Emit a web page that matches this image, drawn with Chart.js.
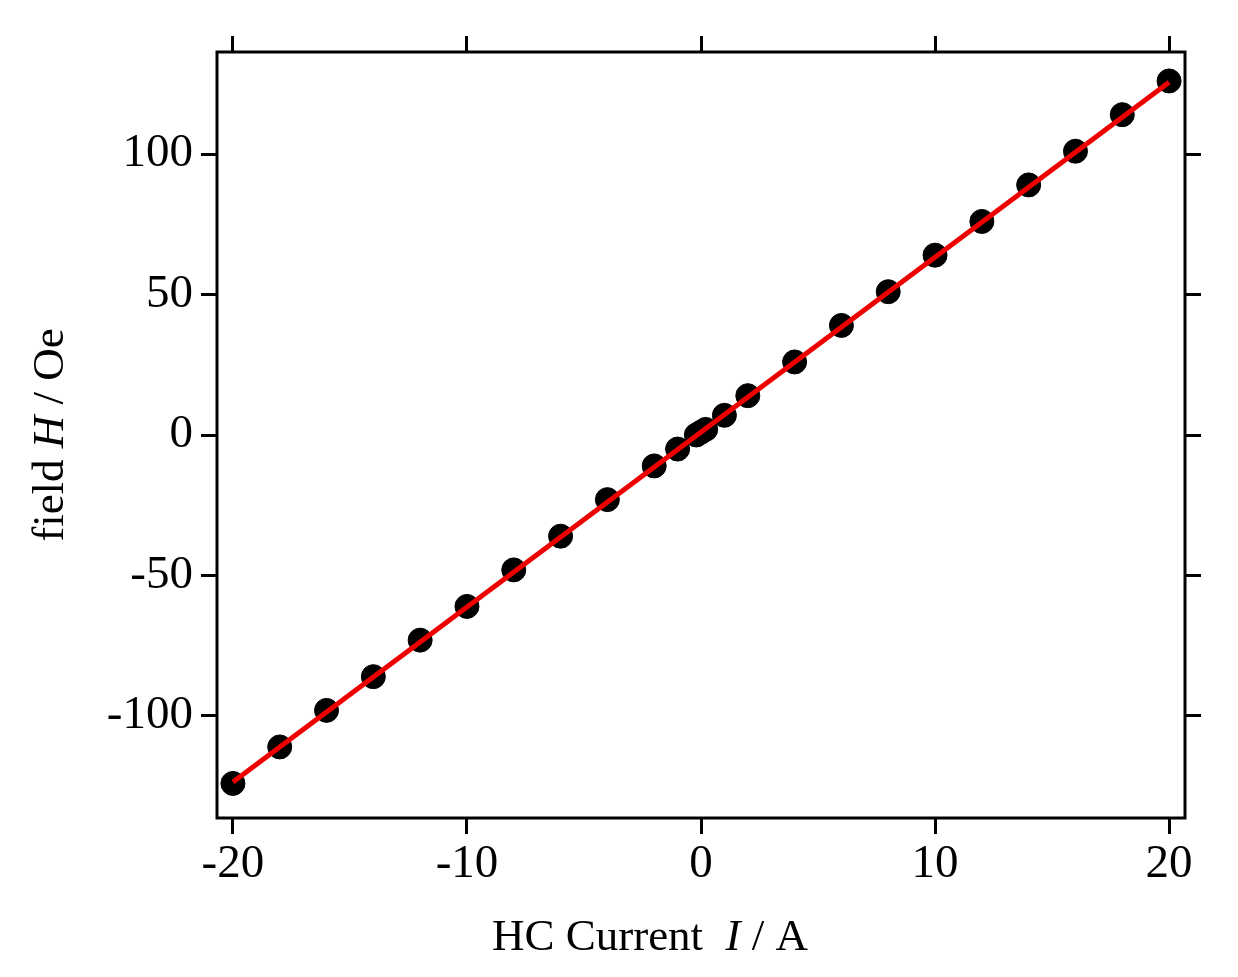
<!DOCTYPE html><html><head><meta charset="utf-8"><script src="https://cdn.jsdelivr.net/npm/chart.js@4"></script>
<style>body{margin:0;background:#fff}canvas{display:block}</style></head><body>
<canvas id="c" width="1238" height="977"></canvas>
<script>
const currents=[-20,-18,-16,-14,-12,-10,-8,-6,-4,-2,-1,-0.2,0,0.2,1,2,4,6,8,10,12,14,16,18,20];
const fields=[-124,-111,-98,-86,-73,-61,-48,-36,-23,-11,-5,0,1,2,7,14,26,39,51,64,76,89,101,114,126];
const fitX=[-20,20];
const fitY=[-123.5,125.5];
const xTicks=[-20,-10,0,10,20];
const yTicks=[-100,-50,0,50,100];
const F='"Liberation Serif", serif';
const tk=v=>a=>{a.ticks=v.map(x=>({value:x}));};
const grid={drawOnChartArea:false,color:'#000',lineWidth:3,tickLength:16,tickColor:'#000'};
const frame={id:'frame',afterDraw(c){const a=c.chartArea,x=c.ctx;x.save();x.strokeStyle='#000';x.lineWidth=3;x.strokeRect(a.left,a.top,a.right-a.left,a.bottom-a.top);
x.fillStyle='#000';x.textBaseline='alphabetic';
const parts=[['HC Current  ','normal'],['I','italic'],[' / A','normal']];
let w=0;parts.forEach(p=>{x.font=p[1]+' 45px '+F;w+=x.measureText(p[0]).width;});
let cx=650-w/2;parts.forEach(p=>{x.font=p[1]+' 45px '+F;x.fillText(p[0],cx,950);cx+=x.measureText(p[0]).width;});
x.translate(63,435);x.rotate(-Math.PI/2);
const q=[['field ','normal'],['H','italic'],[' / Oe','normal']];
w=0;q.forEach(p=>{x.font=p[1]+' 45px '+F;w+=x.measureText(p[0]).width;});
cx=-w/2;q.forEach(p=>{x.font=p[1]+' 45px '+F;x.fillText(p[0],cx,0);cx+=x.measureText(p[0]).width;});
x.restore();}};
new Chart(document.getElementById('c'),{type:'scatter',
data:{datasets:[
{data:fitX.map((v,i)=>({x:v,y:fitY[i]})),showLine:true,borderColor:'#ee0000',borderWidth:5,pointRadius:0,order:0},
{data:currents.map((v,i)=>({x:v,y:fields[i]})),backgroundColor:'#000',borderColor:'#000',pointRadius:12,order:1}]},
options:{responsive:false,animation:false,layout:{padding:0},
plugins:{legend:{display:false},tooltip:{enabled:false}},
scales:{
x:{type:'linear',position:'bottom',min:-20.68,max:20.68,afterBuildTicks:tk(xTicks),grid,border:{display:false},
ticks:{color:'#000',font:{family:F,size:47},padding:2,maxRotation:0},afterFit(a){a.height=159;}},
x2:{type:'linear',position:'top',min:-20.68,max:20.68,afterBuildTicks:tk(xTicks),grid,border:{display:false},
ticks:{display:false},afterFit(a){a.height=52;}},
y:{type:'linear',position:'left',min:-136.3,max:136.3,afterBuildTicks:tk(yTicks),grid,border:{display:false},
ticks:{color:'#000',font:{family:F,size:47},padding:8},afterFit(a){a.width=217;}},
y2:{type:'linear',position:'right',min:-136.3,max:136.3,afterBuildTicks:tk(yTicks),grid,border:{display:false},
ticks:{display:false},afterFit(a){a.width=53;}}}}
,plugins:[frame]});
</script></body></html>
